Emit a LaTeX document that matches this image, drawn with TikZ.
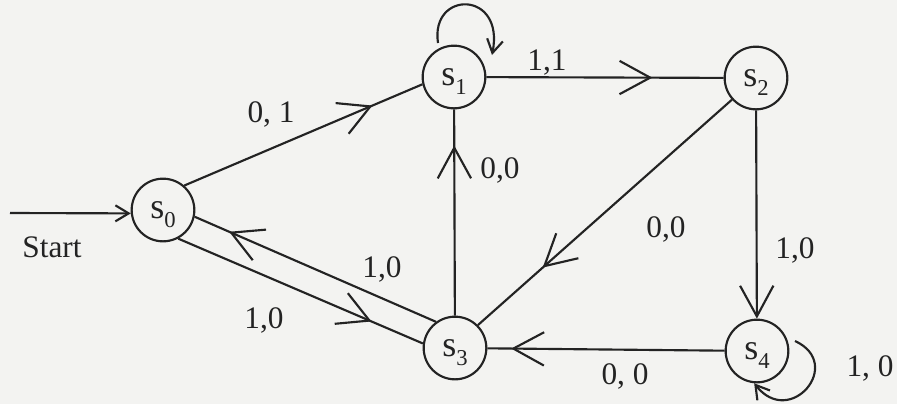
\documentclass[tikz,border=0pt]{standalone}
\usepackage{fontspec}
\setmainfont{Liberation Serif}
\usetikzlibrary{arrows.meta,decorations.markings,calc}
\definecolor{paper}{RGB}{243,243,241}
\definecolor{ink}{RGB}{35,35,35}
\tikzset{
  bigtip/.tip={Straight Barb[length=23pt,width=25pt]},
  smalltip/.tip={Straight Barb[length=10pt,width=12pt]},
  state/.style={circle,draw=ink,text=ink,line width=1.6pt,minimum size=47pt,
    inner sep=0pt,text depth=0pt,font=\fontsize{27}{27}\selectfont},
  lbl/.style={anchor=base,text=ink,font=\fontsize{23.5}{24}\selectfont},
  wire/.style={draw=ink,line width=1.6pt},
  midarrow/.style={postaction={decorate,decoration={markings,
    mark=at position #1 with {\arrow{bigtip}}}}},
}
\newcommand{\stname}[1]{s\raisebox{-7pt}{\fontsize{17}{17}\selectfont #1}}
\begin{document}
\begin{tikzpicture}[x=0.75pt,y=-0.75pt]
\fill[paper] (0,0) rectangle (897,404);
\useasboundingbox (0,0) rectangle (897,404);

% states
\node[state] (s0) at (163,210) {\stname{0}};
\node[state] (s1) at (454,77) {\stname{1}};
\node[state] (s2) at (756,78) {\stname{2}};
\node[state] (s3) at (455,348) {\stname{3}};
\node[state] (s4) at (757,351) {\stname{4}};

% start arrow
\coordinate (st) at (10,213);
\draw[wire,-{smalltip}] (st) -- (s0.186);

% transitions
\draw[wire,midarrow=0.79] (s0.49) -- (s1.193);
\draw[wire,midarrow=0.70] (s1) -- (s2);
\draw[wire,midarrow=0.825] (s3) -- (s1);
\draw[wire,midarrow=0.745] (s2.222.5) -- (s3.45);
\draw[wire,-{bigtip}] (s2) -- (s4);
\draw[wire,midarrow=0.90] (s4) -- (s3);
\draw[wire,midarrow=0.857] (s3.126) -- (s0.348);
\draw[wire,midarrow=0.79] (s0.298) -- (s3.172);

% self loops
\draw[wire,-{smalltip}] ($(s1)+(-16,-34)$) .. controls ($(s1)+(-24,-87)$) and ($(s1)+(51,-87)$) .. ($(s1)+(38,-22)$);
\draw[wire,-{smalltip}] ($(s4)+(38,-10)$) .. controls ($(s4)+(88,13)$) and ($(s4)+(33,78)$) .. (s4.265);

% labels
\node[lbl] (l01) at (271,122) {0, 1};
\node[lbl] (l11) at (547,70) {1,1};
\node[lbl] (l31) at (500,178) {0,0};
\node[lbl] (l23) at (666,237) {0,0};
\node[lbl] (l24) at (795,258) {1,0};
\node[lbl] (l30) at (382,277) {1,0};
\node[lbl] (l03) at (264,328) {1,0};
\node[lbl] (l43) at (625,384) {0, 0};
\node[lbl] (l44) at (870,376) {1, 0};
\node[lbl] (lst) at (52,257) {Start};
\end{tikzpicture}
\end{document}
